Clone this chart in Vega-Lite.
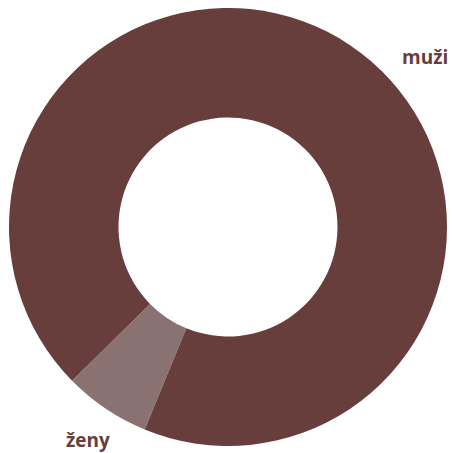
{
  "$schema": "https://vega.github.io/schema/vega-lite/v6.json",
  "width": 448,
  "height": 452,
  "padding": {"left": 4, "top": 1, "right": 0, "bottom": 0},
  "autosize": {"type": "none"},
  "background": "white",
  "view": {"stroke": null},
  "data": {"values": [
    {"pohlavi": "ženy", "podil": 6.4},
    {"pohlavi": "muži", "podil": 93.6}
  ]},
  "encoding": {
    "theta": {"field": "podil", "type": "quantitative", "stack": true, "scale": {"range": [3.934, 10.217]}},
    "color": {"field": "pohlavi", "type": "nominal", "sort": ["ženy", "muži"], "scale": {"domain": ["ženy", "muži"], "range": ["#8a7272", "#673e3b"]}, "legend": null}
  },
  "layer": [
    {"mark": {"type": "arc", "outerRadius": 219, "innerRadius": 109.5, "stroke": "white", "strokeWidth": 0}},
    {
      "mark": {"type": "text", "radius": 255, "font": "Open Sans", "fontWeight": "bold", "fontSize": 19, "fill": "#673e3b", "align": "center", "baseline": "middle", "dx": 2, "dy": 2},
      "encoding": {"text": {"condition": {"test": "datum.pohlavi === 'ženy'", "field": "pohlavi"}, "value": ""}, "color": {"value": "#673e3b"}}
    },
    {
      "mark": {"type": "text", "radius": 255, "font": "Open Sans", "fontWeight": "bold", "fontSize": 19, "fill": "#673e3b", "align": "center", "baseline": "middle", "dx": 55, "dy": 43},
      "encoding": {"text": {"condition": {"test": "datum.pohlavi === 'muži'", "field": "pohlavi"}, "value": ""}, "color": {"value": "#673e3b"}}
    }
  ]
}
